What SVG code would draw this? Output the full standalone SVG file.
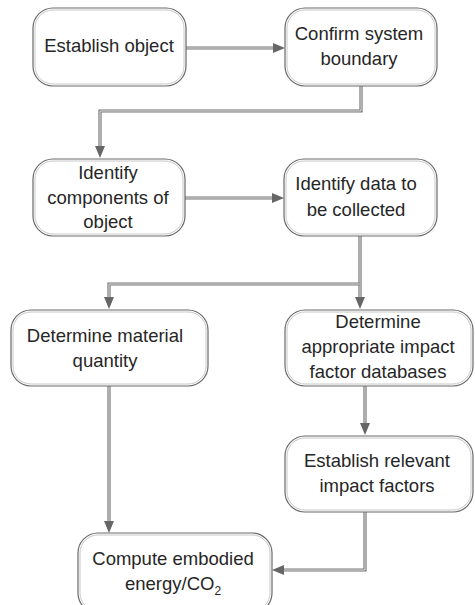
<svg xmlns="http://www.w3.org/2000/svg" width="475" height="605" viewBox="0 0 475 605">
<style>
.box{fill:#fff;stroke:#6a6a6a;stroke-width:1.2}
.inner{fill:none;stroke:#c8c8c8;stroke-width:1}
.t{font-family:"Liberation Sans",Arial,sans-serif;font-size:18.5px;fill:#262626;text-anchor:middle}
.c{fill:none;stroke:#777;stroke-width:3.2}
.ci{fill:none;stroke:#e6e6e6;stroke-width:1}
.ah{fill:#666}
</style>
<rect width="475" height="605" fill="#fff"/>
<g id="connectors">
<path class="c" d="M186 48H276"/><path class="ci" d="M186 48H276"/>
<path class="c" d="M361 86V111H100V149"/><path class="ci" d="M361 86V111H100V149"/>
<path class="c" d="M185 198H275"/><path class="ci" d="M185 198H275"/>
<path class="c" d="M360 236V300"/><path class="ci" d="M360 236V300"/>
<path class="c" d="M360 284H109V300"/><path class="ci" d="M360 284H109V300"/>
<path class="c" d="M365 386V426"/><path class="ci" d="M365 386V426"/>
<path class="c" d="M109 386V524"/><path class="ci" d="M109 386V524"/>
<path class="c" d="M365 512V570H281"/><path class="ci" d="M365 512V570H281"/>
<polygon class="ah" points="285,48 273,43 273,53"/>
<polygon class="ah" points="100,158 95,146 105,146"/>
<polygon class="ah" points="284,198 272,193 272,203"/>
<polygon class="ah" points="109,309 104,297 114,297"/>
<polygon class="ah" points="360,309 355,297 365,297"/>
<polygon class="ah" points="365,435 360,423 370,423"/>
<polygon class="ah" points="109,533 104,521 114,521"/>
<polygon class="ah" points="272,570 284,565 284,575"/>
</g>
<g id="n1">
<rect class="box" x="33" y="8" width="153" height="78" rx="20"/>
<rect class="inner" x="35" y="10" width="149" height="74" rx="18"/>
<text class="t" x="109" y="52">Establish object</text>
</g>
<g id="n2">
<rect class="box" x="285" y="8" width="152" height="78" rx="20"/>
<rect class="inner" x="287" y="10" width="148" height="74" rx="18"/>
<text class="t" x="359" y="40">Confirm system</text>
<text class="t" x="359" y="65">boundary</text>
</g>
<g id="n3">
<rect class="box" x="33" y="159" width="152" height="77" rx="20"/>
<rect class="inner" x="35" y="161" width="148" height="73" rx="18"/>
<text class="t" x="108" y="179">Identify</text>
<text class="t" x="108" y="204">components of</text>
<text class="t" x="108" y="228">object</text>
</g>
<g id="n4">
<rect class="box" x="284" y="159" width="153" height="77" rx="20"/>
<rect class="inner" x="286" y="161" width="149" height="73" rx="18"/>
<text class="t" x="356" y="190">Identify data to</text>
<text class="t" x="356" y="216">be collected</text>
</g>
<g id="n5">
<rect class="box" x="11" y="310" width="197" height="76" rx="20"/>
<rect class="inner" x="13" y="312" width="193" height="72" rx="18"/>
<text class="t" x="105" y="342">Determine material</text>
<text class="t" x="105" y="367">quantity</text>
</g>
<g id="n6">
<rect class="box" x="285" y="310" width="188" height="76" rx="20"/>
<rect class="inner" x="287" y="312" width="184" height="72" rx="18"/>
<text class="t" x="378" y="328">Determine</text>
<text class="t" x="378" y="353">appropriate impact</text>
<text class="t" x="378" y="378">factor databases</text>
</g>
<g id="n7">
<rect class="box" x="285" y="436" width="188" height="76" rx="20"/>
<rect class="inner" x="287" y="438" width="184" height="72" rx="18"/>
<text class="t" x="377" y="467">Establish relevant</text>
<text class="t" x="377" y="492">impact factors</text>
</g>
<g id="n8">
<rect class="box" x="78" y="533" width="194" height="80" rx="20"/>
<rect class="inner" x="80" y="535" width="190" height="76" rx="18"/>
<text class="t" x="173" y="565">Compute embodied</text>
<text class="t" x="173" y="590">energy/CO<tspan font-size="12" dy="5">2</tspan></text>
</g>
</svg>
